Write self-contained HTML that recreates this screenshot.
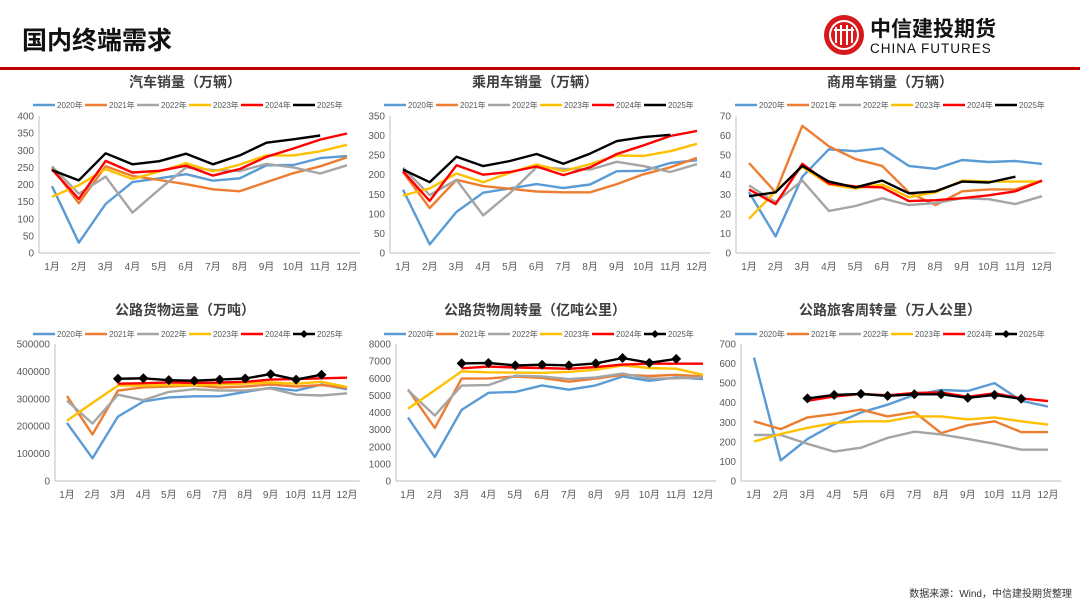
<!DOCTYPE html>
<html><head><meta charset="utf-8"><style>
body{margin:0;width:1080px;height:608px;background:#fff;overflow:hidden;font-family:"Liberation Sans","Noto Sans CJK SC",sans-serif}
svg{position:absolute;left:0;top:0}
</style></head><body>
<svg id="s" width="1080" height="608">
<text x="22" y="49" font-size="25" font-weight="bold" fill="#111">国内终端需求</text>
<rect x="0" y="67" width="1080" height="3" fill="#C00000"/>
<g>
<circle cx="844" cy="35" r="20" fill="#D7191C"/>
<circle cx="844" cy="35" r="14" fill="none" stroke="#fff" stroke-width="2"/>
<path d="M836 27v16M841 25v20M847 25v20M852 27v16M834 30h20" stroke="#fff" stroke-width="2" fill="none"/>
<text x="870" y="36" font-size="21" font-weight="bold" fill="#111">中信建投期货</text>
<text x="870" y="53" font-size="13.5" fill="#111" letter-spacing="1">CHINA FUTURES</text>
</g>
<text x="1072" y="597" font-size="10" fill="#333" text-anchor="end">数据来源：Wind，中信建投期货整理</text>
</svg>
<script>
const years=['2020年','2021年','2022年','2023年','2024年','2025年'];
const months=['1月','2月','3月','4月','5月','6月','7月','8月','9月','10月','11月','12月'];
const colors=['#5B9BD5','#ED7D31','#A5A5A5','#FFC000','#FF0000','#000000'];
const titles=['汽车销量（万辆）','乘用车销量（万辆）','商用车销量（万辆）','公路货物运量（万吨）','公路货物周转量（亿吨公里）','公路旅客周转量（万人公里）'];
const yMax=[400,350,70,500000,8000,700];
const yStep=[50,50,10,100000,1000,100];
const c1_2020=[195,30,143,207,218,230,211,218,256,257,277,283];
const c1_2021=[250,145,253,225,213,201,186,180,207,233,253,279];
const c1_2022=[253,173,223,118,186,250,242,239,260,250,232,256];
const c1_2023=[164,198,245,216,238,262,238,258,285,285,297,316];
const c1_2024=[244,158,269,235,240,255,226,245,281,305,331,349];
const c1_2025=[242,212,291,259,268,290,259,285,322,332,343];
const c2_2020=[162,22,105,154,165,176,166,175,209,210,230,237];
const c2_2021=[207,115,187,171,164,157,155,155,176,201,219,243];
const c2_2022=[218,148,187,96,153,219,215,213,233,222,207,227];
const c2_2023=[147,165,203,181,205,226,209,227,249,248,260,279];
const c2_2024=[209,133,224,200,207,221,199,219,253,275,299,312];
const c2_2025=[213,181,246,222,235,253,228,254,286,296,302];
const c3_2020=[31,8.5,39,53,52,53.5,44.5,43,47.5,46.5,47,45.5];
const c3_2021=[46,31,65,54.5,48,44.5,31,24.5,31.5,32.5,32.5,37];
const c3_2022=[34.5,26,37,21.5,24,28,24.5,25.5,28,27.5,25,29];
const c3_2023=[17.5,31.5,44,35,33,35,28.5,31,37,36.5,36.5,36.5];
const c3_2024=[32.5,25,45.5,35.5,34,33.5,26.5,27,28,29.5,31.5,37];
const c3_2025=[29,31,44.5,36.5,33.5,37,30.5,31.5,36.5,36,39];
const c4_2020=[212000,83000,235000,290000,305000,309000,309000,325000,340000,330000,352000,335000];
const c4_2021=[310000,170000,330000,342000,345000,349000,341000,345000,352000,345000,350000,340000];
const c4_2022=[293000,210000,315000,295000,325000,335000,330000,330000,338000,315000,312000,320000];
const c4_2023=[220000,285000,348000,348000,350000,350000,352000,356000,360000,355000,362000,343000];
const c4_2024=[null,null,355000,357000,360000,358000,359000,362000,370000,372000,375000,377000];
const c4_2025=[null,null,373000,375000,368000,366000,370000,374000,390000,370000,388000];
const c5_2020=[3700,1400,4150,5150,5200,5580,5330,5580,6100,5850,6050,5950];
const c5_2021=[5350,3100,5980,5990,6100,6020,5800,5980,6200,6130,6200,6100];
const c5_2022=[5300,3820,5570,5600,6150,6100,5950,6050,6280,5980,6000,6050];
const c5_2023=[4220,5300,6400,6350,6330,6320,6370,6500,6750,6600,6560,6200];
const c5_2024=[null,null,6580,6680,6630,6600,6550,6650,6800,6850,6850,6850];
const c5_2025=[null,null,6870,6890,6750,6790,6750,6870,7180,6900,7130];
const c6_2020=[630,105,215,290,350,390,440,465,460,500,410,380];
const c6_2021=[305,265,325,342,365,330,352,245,285,305,250,250];
const c6_2022=[235,235,190,150,170,220,252,238,215,190,160,160];
const c6_2023=[202,240,272,297,305,305,330,330,315,325,305,288];
const c6_2024=[null,null,410,432,445,438,450,452,430,448,422,408];
const c6_2025=[null,null,422,440,445,435,443,443,425,440,420];
const seriesSets=[[c1_2020,c1_2021,c1_2022,c1_2023,c1_2024,c1_2025],[c2_2020,c2_2021,c2_2022,c2_2023,c2_2024,c2_2025],[c3_2020,c3_2021,c3_2022,c3_2023,c3_2024,c3_2025],[c4_2020,c4_2021,c4_2022,c4_2023,c4_2024,c4_2025],[c5_2020,c5_2021,c5_2022,c5_2023,c5_2024,c5_2025],[c6_2020,c6_2021,c6_2022,c6_2023,c6_2024,c6_2025]];
const layout=[
{ax:39,x1:52,x12:347,top:116,bot:253,tx:185,ty:87,lx:33,ly:105,mk:false},
{ax:390,x1:403,x12:697,top:116,bot:253,tx:535,ty:87,lx:384,ly:105,mk:false},
{ax:736,x1:749,x12:1042,top:116,bot:253,tx:890,ty:87,lx:735,ly:105,mk:false},
{ax:55,x1:67,x12:347,top:344,bot:481,tx:185,ty:315,lx:33,ly:334,mk:true},
{ax:396,x1:408,x12:703,top:344,bot:481,tx:535,ty:315,lx:384,ly:334,mk:true},
{ax:741,x1:754,x12:1048,top:344,bot:481,tx:890,ty:315,lx:735,ly:334,mk:true}];
const NS='http://www.w3.org/2000/svg';
const svg=document.getElementById('s');
function mk(tag,attrs,parent){const e=document.createElementNS(NS,tag);for(const k in attrs)e.setAttribute(k,attrs[k]);parent.appendChild(e);return e;}
layout.forEach((L,ci)=>{
 const g=mk('g',{},svg);
 
 
 const sp=(L.x12-L.x1)/11;
 const xS=i=>L.x1+i*sp;
 const yS=v=>L.bot-(v/yMax[ci])*(L.bot-L.top);
 const t=mk('text',{x:L.tx,y:L.ty,'font-size':14,'font-weight':'bold',fill:'#404040','text-anchor':'middle'},g);
 t.textContent=titles[ci];
 
 
 const xa=mk('line',{x1:L.ax,x2:L.x12+sp/2,y1:L.bot,y2:L.bot,stroke:'#BFBFBF','stroke-width':1},g);
 
 
 const ya=mk('line',{x1:L.ax,x2:L.ax,y1:L.top,y2:L.bot,stroke:'#BFBFBF','stroke-width':1},g);
 
 
 for(let v=0;v<=yMax[ci];v+=yStep[ci]){
  const tt=mk('text',{x:L.ax-5,y:yS(v)+3.5,'font-size':10,fill:'#595959','text-anchor':'end'},g);
  tt.textContent=v;
  
  
 }
 months.forEach((m,i)=>{
  const tt=mk('text',{x:xS(i),y:L.bot+17,'font-size':10,fill:'#595959','text-anchor':'middle'},g);
  tt.textContent=m;
  
  
 });
 seriesSets[ci].forEach((arr,si)=>{
  let d='';let pen=false;
  arr.forEach((v,i)=>{if(v==null){pen=false;return;}d+=(pen?'L':'M')+xS(i).toFixed(1)+' '+yS(v).toFixed(1);pen=true;});
  const p=mk('path',{d:d,fill:'none',stroke:colors[si],'stroke-width':2.4,'stroke-linejoin':'round'},g);
  
  
  if(L.mk&&si===5){arr.forEach((v,i)=>{if(v==null)return;const x=xS(i),y=yS(v);
   const dm=mk('path',{d:`M${x} ${y-5}L${x+5} ${y}L${x} ${y+5}L${x-5} ${y}Z`,fill:'#000'},g);
   
   });}
 });
 years.forEach((yr,si)=>{
  const lg=mk('g',{},g);
  
  
  const x=L.lx+si*52;
  mk('line',{x1:x,x2:x+22,y1:L.ly,y2:L.ly,stroke:colors[si],'stroke-width':2.4},lg);
  if(L.mk&&si===5)mk('path',{d:`M${x+11} ${L.ly-4}L${x+15} ${L.ly}L${x+11} ${L.ly+4}L${x+7} ${L.ly}Z`,fill:'#000'},lg);
  const tt=mk('text',{x:x+24,y:L.ly+3,'font-size':8,fill:'#595959'},lg);
  tt.textContent=yr;
 });
});
</script>
</body></html>
